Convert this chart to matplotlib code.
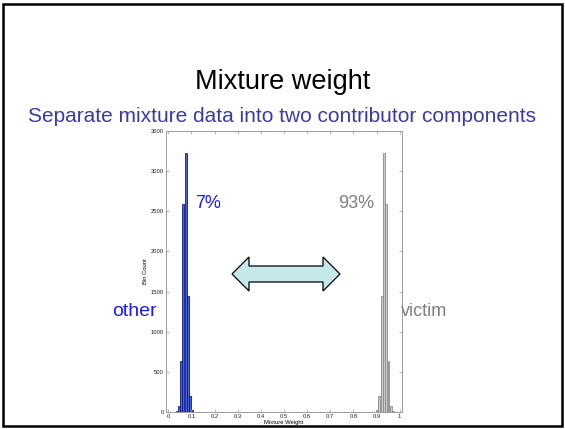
import matplotlib.pyplot as plt
from matplotlib.patches import Polygon, Rectangle

plt.rcParams['font.family'] = ['Liberation Sans', 'DejaVu Sans']

# histogram bins (centre, count)
other_x = [0.035, 0.045, 0.055, 0.065, 0.075, 0.085, 0.095, 0.105]
other_n = [10, 75, 640, 2590, 3230, 1450, 200, 20]
victim_x = [0.902, 0.912, 0.922, 0.932, 0.942, 0.952, 0.962, 0.972]
victim_n = [20, 200, 1450, 3230, 2590, 640, 75, 10]

xticks = [0, 0.1, 0.2, 0.3, 0.4, 0.5, 0.6, 0.7, 0.8, 0.9, 1]
xtick_labels = ['0', '0.1', '0.2', '0.3', '0.4', '0.5', '0.6', '0.7', '0.8', '0.9', '1']
yticks = [0, 500, 1000, 1500, 2000, 2500, 3000, 3500]

fig = plt.figure(figsize=(5.65, 4.29), dpi=100)

# slide frame
fig.patches.append(Rectangle((3 / 565, 3 / 429), 559 / 565, 422 / 429, transform=fig.transFigure,
                             fill=False, edgecolor='black', linewidth=1.8))

fig.text(0.5, 1 - 82 / 429, 'Mixture weight', ha='center', va='center', fontsize=19.5, color='black')
fig.text(0.5, 1 - 116 / 429, 'Separate mixture data into two contributor components',
         ha='center', va='center', fontsize=15, color='#3a3aa8')

ax = fig.add_axes([166 / 565, 17 / 429, 236 / 565, 281 / 429])
ax.bar(other_x, other_n, width=0.0075, color='#4a62d2', edgecolor='#0c1a8c', linewidth=0.6)
ax.bar(victim_x, victim_n, width=0.0075, color='#cccccc', edgecolor='#8a8a8a', linewidth=0.6)

ax.set_xlim(-0.01, 1.01)
ax.set_ylim(0, 3500)
ax.set_xticks(xticks)
ax.set_xticklabels(xtick_labels)
ax.set_yticks(yticks)
ax.tick_params(direction='in', length=2.5, width=0.5, labelsize=4.2, colors='#999999',
               labelcolor='#222222', top=True, right=True, pad=1.5)
for s in ax.spines.values():
    s.set_color('#999999')
    s.set_linewidth(0.7)
ax.set_xlabel('Mixture Weight', fontsize=4.2, labelpad=1)
ax.set_ylabel('Bin Count', fontsize=4.2, labelpad=2)

fig.text(208 / 565, 1 - 203 / 429, '7%', ha='center', va='center', fontsize=13, color='#1a1aff')
fig.text(356 / 565, 1 - 203 / 429, '93%', ha='center', va='center', fontsize=13, color='#7f7f7f')
fig.text(134 / 565, 1 - 312 / 429, 'other', ha='center', va='center', fontsize=14, color='#1a1aff')
fig.text(424 / 565, 1 - 312 / 429, 'victim', ha='center', va='center', fontsize=13, color='#7f7f7f')

# double arrow between the two components
pts = [(232, 274), (249, 257), (249, 266), (323, 266), (323, 257), (340, 274),
       (323, 291), (323, 282), (249, 282), (249, 291)]
pts = [(x / 565, 1 - y / 429) for x, y in pts]
fig.patches.append(Polygon(pts, closed=True, transform=fig.transFigure,
                           facecolor='#c5e8ea', edgecolor='black', linewidth=0.9))

plt.savefig('out.png', dpi=100)
